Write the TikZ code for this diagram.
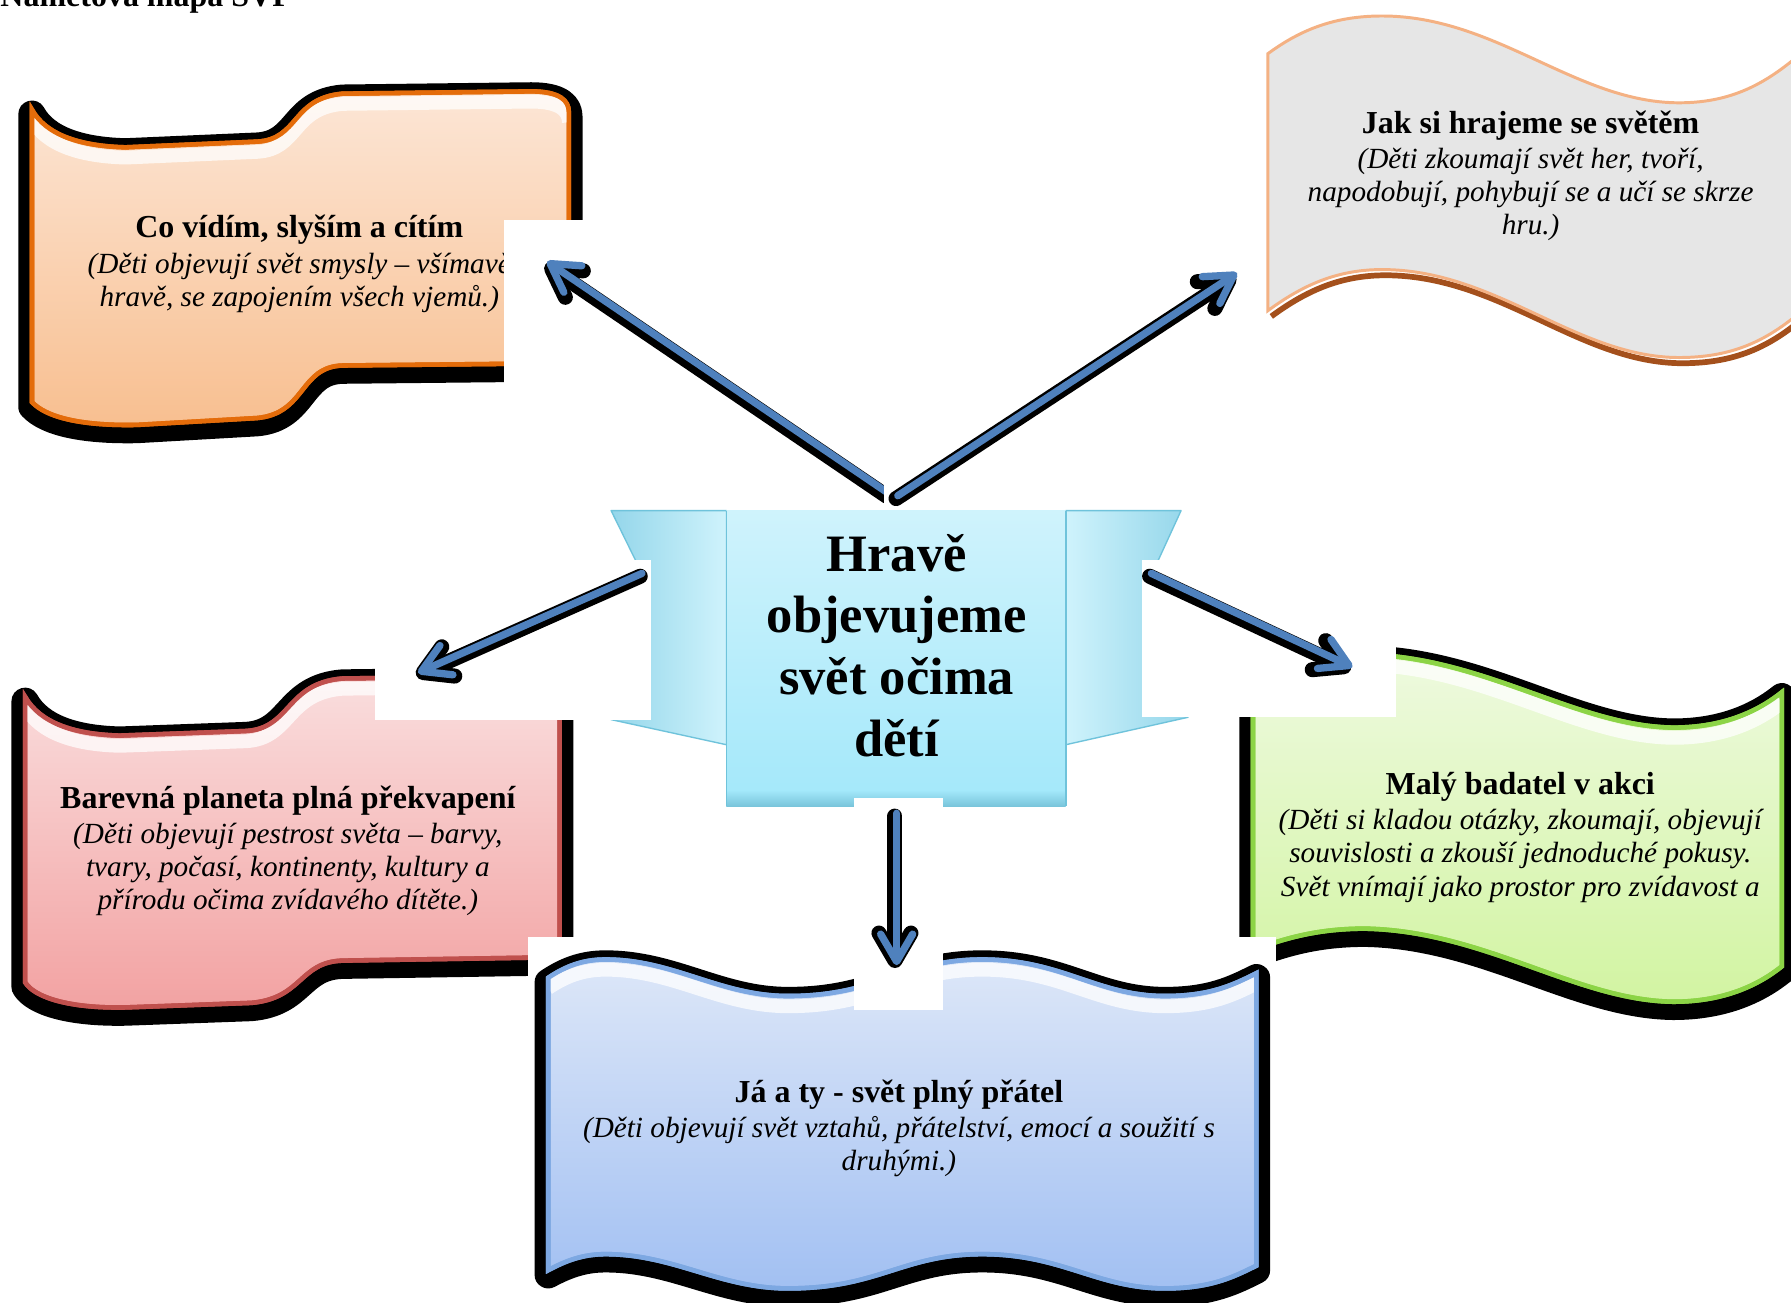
\documentclass[tikz,border=0pt]{standalone}
\usepackage{fontspec}
\setmainfont{Liberation Serif}
\usetikzlibrary{arrows.meta}

\definecolor{arrblue}{HTML}{4F81BD}
\definecolor{orB}{HTML}{E46C0A}
\definecolor{orT}{HTML}{FCE6D6}
\definecolor{orBo}{HTML}{F8BF90}
\definecolor{pkB}{HTML}{C0504D}
\definecolor{pkT}{HTML}{FADEDE}
\definecolor{pkBo}{HTML}{F2A2A2}
\definecolor{grB}{HTML}{8CD446}
\definecolor{grT}{HTML}{EEFADF}
\definecolor{grBo}{HTML}{D2F4A2}
\definecolor{blB}{HTML}{7DA8E2}
\definecolor{blT}{HTML}{DDE7F8}
\definecolor{blBo}{HTML}{A2C0F2}
\definecolor{gyF}{HTML}{E6E6E6}
\definecolor{gyB}{HTML}{F4B183}
\definecolor{gyS}{HTML}{A4501C}
\definecolor{bnT}{HTML}{CFF3FC}
\definecolor{bnBo}{HTML}{A3E8FA}
\definecolor{bnL}{HTML}{6FC3DB}
\definecolor{bnW}{HTML}{94D6EA}

\def\topA{(28,96) .. controls (40,118) and (70,128) .. (110,129) -- (225,124) .. controls (262,122) and (255,86) .. (300,82) -- (465,80) .. controls (490,80) and (498,88) .. (498,98)}
\def\shpA{\topA -- (498,318) -- (300,320) .. controls (262,321) and (268,362) .. (225,366) -- (120,372) .. controls (70,373) and (40,365) .. (28,352) -- cycle}

\def\topC{(22,610) .. controls (35,633) and (65,643) .. (105,644) -- (215,640) .. controls (255,638) and (250,598) .. (300,594) -- (470,592) .. controls (485,592) and (490,598) .. (490,605)}
\def\shpC{\topC -- (490,838) -- (300,841) .. controls (262,842) and (265,874) .. (220,878) -- (110,882) .. controls (60,883) and (30,873) .. (22,860) -- cycle}

\def\topD{(1097,592) .. controls (1130,579) and (1160,573) .. (1195,573) .. controls (1300,575) and (1380,636) .. (1465,637) .. controls (1510,637) and (1540,622) .. (1560,606)}
\def\shpD{\topD -- (1560,846) .. controls (1540,862) and (1510,877) .. (1465,877) .. controls (1380,876) and (1300,815) .. (1195,813) .. controls (1160,813) and (1130,819) .. (1097,832) -- cycle}

\def\topE{(480,856) .. controls (495,846) and (510,840) .. (530,840) .. controls (590,840) and (630,872) .. (690,872) .. controls (770,872) and (790,840) .. (860,840) .. controls (930,840) and (960,872) .. (1020,872) .. controls (1060,872) and (1080,862) .. (1100,852)}
\def\shpE{\topE -- (1100,1108) .. controls (1080,1118) and (1060,1128) .. (1020,1128) .. controls (960,1128) and (930,1098) .. (860,1098) .. controls (790,1098) and (770,1128) .. (690,1128) .. controls (630,1128) and (590,1098) .. (530,1098) .. controls (510,1098) and (495,1104) .. (480,1112) -- cycle}

\def\topB{(1110,47) .. controls (1140,25) and (1170,14) .. (1210,14) .. controls (1310,14) and (1380,90) .. (1470,90) .. controls (1520,90) and (1550,70) .. (1580,44)}
\def\botB{(1580,270) .. controls (1550,296) and (1520,313) .. (1470,313) .. controls (1380,313) and (1310,236) .. (1210,236) .. controls (1170,236) and (1140,250) .. (1110,272)}
\def\shpB{\topB -- (1580,270) .. controls (1550,296) and (1520,313) .. (1470,313) .. controls (1380,313) and (1310,236) .. (1210,236) .. controls (1170,236) and (1140,250) .. (1110,272) -- cycle}

\newcommand\boxtitle[1]{{\upshape\bfseries\fontsize{14}{16}\selectfont #1}}

\begin{document}
\begin{tikzpicture}[x=0.5pt,y=-0.5pt,
  outline/.style={fill=black, draw=black, line width=12pt, line join=round, transform canvas={shift={(0,4)}}},
  gloss/.style={draw=white, line width=6pt, opacity=0.75, transform canvas={shift={(0,9)}}},
  boxtxt/.style={align=center, inner sep=0pt, font=\fontsize{12.8}{14.5}\selectfont\itshape},
  whitebox/.style={fill=white, draw=none},
  arrbody/.style={draw=arrblue, line width=3.2pt, line cap=round, -{Straight Barb[length=12pt,width=14pt,round]}},
  arrshadow/.style={draw=black, line width=6.6pt, line cap=round, -{Straight Barb[length=12pt,width=14pt,round]}, transform canvas={shift={(-1.5,2.5)}}},
  wing/.style={draw=bnL, line width=0.6pt, line join=round}
]
\clip (0,0) rectangle (1568,1140);
\fill[white] (0,0) rectangle (1568,1140);

% heading (cut by top edge)
\node[anchor=base west, inner sep=0pt, font=\bfseries\fontsize{14}{16}\selectfont] (head) at (0,6) {Námětová mapa SVP};

% ---------- orange box ----------
\path[outline] \shpA;
\path[draw=orB, line width=2pt, top color=orT, bottom color=orBo] \shpA;
\begin{scope}\clip \shpA; \path[gloss] \topA; \end{scope}
\path[draw=orB, line width=2pt] \shpA;
\node[boxtxt] (tA) at (262,231) {\boxtitle{Co vídím, slyším a cítím}\\[1pt] (Děti objevují svět smysly – všímavě\\ hravě, se zapojením všech vjemů.)};

% ---------- gray box ----------
\path[draw=gyS, line width=2.5pt, transform canvas={shift={(3,5)}}] \botB;
\path[fill=gyF, draw=gyB, line width=1.3pt] \shpB;
\node[boxtxt] (tB) at (1340,154) {\boxtitle{Jak si hrajeme se světěm}\\[1pt] (Děti zkoumají svět her, tvoří,\\ napodobují, pohybují se a učí se skrze\\ hru.)};

% ---------- pink box ----------
\path[outline] \shpC;
\path[draw=pkB, line width=2pt, top color=pkT, bottom color=pkBo] \shpC;
\begin{scope}\clip \shpC; \path[gloss] \topC; \end{scope}
\path[draw=pkB, line width=2pt] \shpC;
\node[boxtxt] (tC) at (252,745) {\boxtitle{Barevná planeta plná překvapení}\\[1pt] (Děti objevují pestrost světa – barvy,\\ tvary, počasí, kontinenty, kultury a\\ přírodu očima zvídavého dítěte.)};

% ---------- green box ----------
\path[outline] \shpD;
\path[draw=grB, line width=2pt, top color=grT, bottom color=grBo] \shpD;
\begin{scope}\clip \shpD; \path[gloss] \topD; \end{scope}
\path[draw=grB, line width=2pt] \shpD;
\node[boxtxt] (tD) at (1331,733) {\boxtitle{Malý badatel v akci}\\[1pt] (Děti si kladou otázky, zkoumají, objevují\\ souvislosti a zkouší jednoduché pokusy.\\ Svět vnímají jako prostor pro zvídavost a};

% ---------- blue box ----------
\fill[whitebox] (462,820) rectangle (1117,1140);
\path[outline] \shpE;
\path[draw=blB, line width=2pt, top color=blT, bottom color=blBo] \shpE;
\begin{scope}\clip \shpE; \path[gloss] \topE; \end{scope}
\path[draw=blB, line width=2pt] \shpE;
\node[boxtxt] (tE) at (787,988) {\boxtitle{Já a ty - svět plný přátel}\\[1pt] (Děti objevují svět vztahů, přátelství, emocí a soužití s\\ druhými.)};

% ---------- central banner ----------
\path[wing, left color=bnW, right color=bnT] (535,447) -- (636,447) -- (636,652) -- (535,630) -- (566,510) -- cycle;
\path[wing, left color=bnT, right color=bnW] (1034,447) -- (933,447) -- (933,652) -- (1040,628) -- (1006,508) -- cycle;
\path[top color=bnT, bottom color=bnBo] (636,447) rectangle (933,706);
\shade[top color=bnBo, bottom color={rgb,255:red,120;green,196;blue,218}] (636,692) rectangle (933,706);
\draw[bnL, line width=0.8pt] (636,447) -- (636,706) (933,447) -- (933,706);
\node[align=center, inner sep=0pt, font=\bfseries\fontsize{23}{27}\selectfont] (hub) at (785,565) {Hravě\\ objevujeme\\ svět očima\\ dětí};

% ---------- arrows ----------
\coordinate (ulT) at (778,432); \coordinate (ulH) at (479,229);
\coordinate (urT) at (786,434); \coordinate (urH) at (1083,239);
\coordinate (llT) at (562,502); \coordinate (llH) at (366,589);
\coordinate (lrT) at (1008,502); \coordinate (lrH) at (1184,584);
\coordinate (dnT) at (785,712); \coordinate (dnH) at (785,845);

\fill[whitebox] (441,193) rectangle (775,440);
\draw[arrshadow] (ulT) -- (ulH);
\draw[arrbody] (ulT) -- (ulH);

\fill[whitebox] (774,232) rectangle (1090,445);
\draw[arrshadow] (urT) -- (urH);
\draw[arrbody] (urT) -- (urH);

\fill[whitebox] (328,490) rectangle (570,630);
\draw[arrshadow] (llT) -- (llH);
\draw[arrbody] (llT) -- (llH);

\fill[whitebox] (1000,490) rectangle (1222,628);
\draw[arrshadow] (lrT) -- (lrH);
\draw[arrbody] (lrT) -- (lrH);

\fill[whitebox] (748,699) rectangle (826,884);
\draw[arrshadow] (dnT) -- (dnH);
\draw[arrbody] (dnT) -- (dnH);
\end{tikzpicture}
\end{document}
